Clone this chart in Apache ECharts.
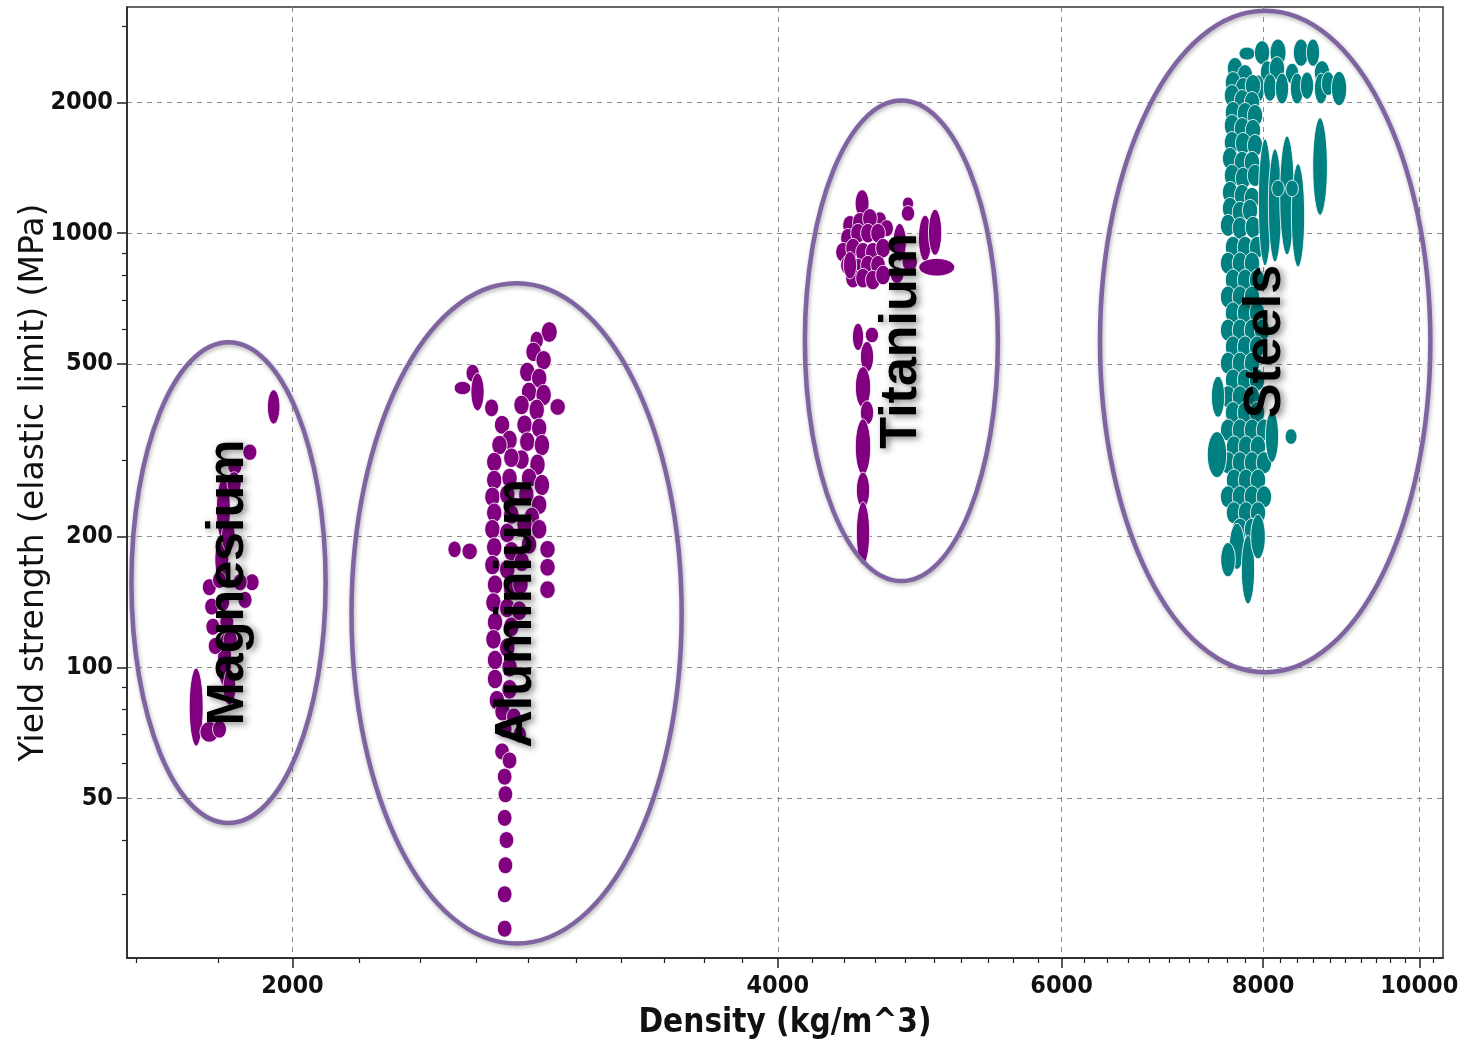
<!DOCTYPE html>
<html>
<head>
<meta charset="utf-8">
<title>Yield strength vs density</title>
<script src="https://cdn.jsdelivr.net/npm/echarts@6/dist/echarts.min.js"></script>
<style>
  html, body { margin: 0; padding: 0; background: #fff; }
  #chart { width: 1464px; height: 1040px; }
</style>
</head>
<body>
<div id="chart"></div>
<script>
// axis ticks (log scales)
var densityLabels = [2000, 4000, 6000, 8000, 10000];
var densityMinor = [1600, 1800, 2200, 2400, 2600, 2800, 3000, 3200, 3400, 3600, 3800,
    4200, 4400, 4600, 4800, 5000, 5200, 5400, 5600, 5800,
    6200, 6400, 6600, 6800, 7000, 7200, 7400, 7600, 7800,
    8200, 8400, 8600, 8800, 9000, 9200, 9400, 9600, 9800, 10200];
var strengthLabels = [50, 100, 200, 500, 1000, 2000];
var strengthMinor = [30, 40, 60, 70, 80, 90, 300, 400, 600, 700, 800, 900, 3000];

// material families: envelope ranges [low, high]
var familyNames = ['Magnesium', 'Aluminium', 'Titanium', 'Steels'];
var familyDensity = [[1589, 2097], [2176, 3487], [4158, 5478], [6338, 10160]];
var familyStrength = [[43.8, 561], [23.1, 767], [158, 2021], [97.4, 3254]];

// materials: [density kg/m3, yield strength MPa, +-density %, +-strength %]
var magnesium = [
    [1947, 398, 0.9, 9.5], [1882, 313, 1.0, 4.4], [1842, 290, 1.0, 4.4],
    [1812, 231, 1.0, 18], [1808, 177, 1.0, 12], [1815, 104, 1.0, 15],
    [1776, 153, 1.0, 4.6], [1802, 159, 1.0, 4.6], [1782, 138, 1.0, 4.6],
    [1810, 141, 1.0, 4.6], [1785, 124, 1.0, 4.6], [1821, 127, 1.0, 4.6],
    [1888, 157, 1.0, 4.6], [1856, 157, 1.0, 4.6], [1791, 112, 1.0, 4.6],
    [1830, 116, 1.0, 4.6], [1869, 143, 1.0, 4.6], [1840, 265, 1.0, 6.5],
    [1825, 200, 1.0, 8], [1828, 90, 0.9, 10],
    [1743, 81, 1.0, 23], [1776, 71, 1.35, 5.6], [1802, 72, 1.0, 4.8]
];
var aluminium = [
    [2886, 592, 1.15, 5.6], [2835, 567, 0.95, 4.8], [2822, 533, 1.1, 5.3],
    [2863, 510, 1.1, 5.2], [2797, 479, 1.1, 5.3], [2845, 464, 1.1, 5.3],
    [2804, 431, 1.1, 5.3], [2863, 424, 1.1, 5.8], [2774, 402, 1.1, 5.3],
    [2835, 392, 1.1, 5.8], [2786, 362, 1.1, 5.3], [2845, 356, 1.1, 5.3],
    [2797, 331, 1.1, 5.3], [2856, 325, 1.1, 5.8], [2774, 301, 1.1, 5.3],
    [2838, 293, 1.1, 5.8], [2804, 273, 1.1, 5.3], [2856, 263, 1.1, 5.8],
    [2793, 250, 1.1, 5.8], [2845, 237, 1.1, 5.3], [2815, 222, 1.1, 5.3],
    [2587, 476, 0.95, 4.8], [2550, 440, 1.2, 3.6], [2605, 431, 0.95, 10.5],
    [2658, 396, 1.0, 4.8], [2698, 362, 1.1, 5.1], [2727, 334, 1.1, 5.3],
    [2921, 398, 1.1, 4.5],
    [2688, 325, 1.1, 5.3], [2668, 297, 1.1, 5.3], [2734, 304, 1.1, 5.3],
    [2668, 270, 1.1, 5.3], [2727, 273, 1.1, 5.3], [2661, 247, 1.1, 5.3],
    [2718, 250, 1.1, 5.3], [2668, 227, 1.1, 5.3], [2734, 225, 1.1, 5.3],
    [2661, 208, 1.1, 5.3], [2718, 204, 1.1, 5.3], [2668, 189, 1.1, 5.3],
    [2734, 185, 1.1, 5.3], [2661, 172, 1.1, 5.3], [2718, 168, 1.1, 5.3],
    [2671, 155, 1.1, 5.3], [2734, 151, 1.1, 5.3], [2665, 141, 1.1, 5.3],
    [2718, 137, 1.1, 5.3], [2671, 127, 1.1, 5.3], [2734, 124, 1.1, 5.3],
    [2665, 116, 1.1, 5.3], [2718, 111, 1.1, 5.3], [2671, 104, 1.1, 5.3],
    [2727, 100, 1.1, 5.3], [2671, 94, 1.1, 5.3], [2727, 89, 1.1, 5.3],
    [2678, 84, 1.1, 5.3], [2700, 79, 1.1, 5.0],
    [2786, 213, 1.1, 5.3], [2804, 192, 1.1, 5.3], [2845, 208, 1.1, 5.3],
    [2775, 175, 1.1, 5.3], [2770, 155, 1.1, 5.3], [2765, 135, 1.1, 5.3],
    [2521, 187, 0.95, 4.5], [2576, 185, 1.1, 4.5],
    [2879, 187, 1.1, 4.8], [2879, 170, 1.1, 4.8], [2879, 151, 1.1, 4.8],
    [2744, 77, 1.05, 4.6], [2708, 72, 1.05, 4.6], [2767, 70, 0.95, 4.6],
    [2698, 64, 1.05, 4.6], [2727, 61, 1.05, 4.6], [2708, 56, 1.05, 4.6],
    [2711, 51, 1.05, 4.6], [2708, 45, 1.05, 4.6], [2715, 40, 1.05, 4.6],
    [2711, 35, 1.05, 4.6], [2708, 30, 1.05, 4.6], [2708, 25, 1.05, 4.6]
];
var titanium = [
    [4512, 1171, 1.0, 7.5], [4628, 1071, 0.95, 4.6], [4674, 1027, 0.95, 4.6],
    [4435, 1043, 1.05, 5.3], [4498, 1060, 1.05, 5.3], [4563, 1082, 1.05, 5.3],
    [4422, 974, 1.05, 5.3], [4486, 1000, 1.05, 5.3], [4550, 1000, 1.05, 5.3],
    [4616, 1000, 1.05, 5.3], [4391, 904, 1.05, 5.3], [4454, 924, 1.05, 5.3],
    [4518, 904, 1.05, 5.3], [4582, 904, 1.05, 5.3], [4649, 924, 1.05, 5.3],
    [4422, 844, 1.05, 5.3], [4486, 831, 1.05, 5.3], [4550, 844, 1.05, 5.3],
    [4616, 844, 1.05, 5.3], [4454, 788, 1.05, 5.3], [4518, 788, 1.05, 5.3],
    [4582, 780, 1.05, 5.3], [4649, 801, 1.05, 5.3], [4435, 844, 0.95, 7.5],
    [4818, 1171, 0.8, 3.5], [4818, 1111, 0.95, 4.2],
    [4761, 953, 0.95, 10.5], [4937, 974, 0.95, 13], [5008, 1005, 0.95, 13],
    [5020, 835, 2.6, 4.8], [4830, 858, 1.1, 5.0], [4743, 801, 0.95, 4.5],
    [4486, 577, 0.8, 7.5], [4576, 583, 0.95, 4.2], [4544, 519, 0.95, 8.5],
    [4518, 442, 1.1, 11.5], [4544, 386, 0.95, 6.5], [4518, 322, 1.1, 16],
    [4518, 256, 0.95, 10], [4518, 204, 0.95, 18]
];
var steels = [
    [7819, 2593, 1.15, 3.5], [7989, 2606, 1.1, 6.5], [8173, 2606, 1.15, 7.5],
    [8446, 2606, 1.1, 7.5], [8592, 2606, 0.95, 7.5], [8046, 2344, 0.95, 6.5],
    [8161, 2395, 1.1, 6.5], [8339, 2332, 0.95, 5.6], [8703, 2344, 1.1, 6.5],
    [7943, 2154, 0.95, 7.5], [8080, 2165, 0.95, 7.5], [8220, 2154, 0.95, 8.5],
    [8398, 2154, 0.95, 8.5], [8519, 2188, 0.95, 7.5], [8691, 2154, 0.95, 8.5],
    [8779, 2212, 0.95, 6.5], [8918, 2154, 1.1, 9.5],
    [7686, 2395, 1.1, 6.0], [7797, 2307, 1.1, 6.0], [7664, 2223, 1.1, 6.0],
    [7775, 2154, 1.1, 6.0], [7886, 2188, 1.1, 6.0], [7653, 2075, 1.1, 6.0],
    [7764, 2021, 1.1, 6.0], [7875, 2000, 1.1, 6.0], [7664, 1897, 1.1, 6.0],
    [7797, 1887, 1.1, 6.0], [7909, 1867, 1.1, 6.0], [7653, 1771, 1.1, 6.0],
    [7764, 1742, 1.1, 6.0], [7886, 1725, 1.1, 6.0], [7653, 1618, 1.1, 6.0],
    [7775, 1610, 1.1, 6.0], [7909, 1593, 1.1, 6.0], [7632, 1487, 1.1, 6.0],
    [7764, 1456, 1.1, 6.0], [7875, 1456, 1.1, 6.0], [7653, 1359, 1.1, 6.0],
    [7775, 1338, 1.1, 6.0], [7909, 1359, 1.1, 6.0], [7632, 1242, 1.1, 6.0],
    [7764, 1222, 1.1, 6.0], [7875, 1203, 1.1, 6.0], [7632, 1141, 1.1, 6.0],
    [7741, 1117, 1.1, 6.0], [7853, 1129, 1.1, 6.0], [7610, 1043, 1.1, 6.0],
    [7741, 1027, 1.1, 6.0], [7886, 1032, 1.1, 6.0],
    [7664, 928, 1.1, 6.0], [7797, 928, 1.1, 6.0], [7932, 928, 1.1, 6.0],
    [7610, 853, 1.1, 6.0], [7741, 853, 1.1, 6.0], [7875, 853, 1.1, 6.0],
    [7664, 780, 1.1, 6.0], [7797, 780, 1.1, 6.0], [7932, 780, 1.1, 6.0],
    [7610, 713, 1.1, 6.0], [7741, 713, 1.1, 6.0], [7875, 713, 1.1, 6.0],
    [7664, 655, 1.1, 6.0], [7797, 655, 1.1, 6.0], [7932, 655, 1.1, 6.0],
    [7610, 598, 1.1, 6.0], [7741, 598, 1.1, 6.0], [7875, 598, 1.1, 6.0],
    [7989, 598, 1.1, 6.0],
    [7664, 547, 1.1, 6.0], [7797, 547, 1.1, 6.0], [7932, 547, 1.1, 6.0],
    [7610, 502, 1.1, 6.0], [7741, 502, 1.1, 6.0], [7875, 502, 1.1, 6.0],
    [7664, 459, 1.1, 6.0], [7797, 459, 1.1, 6.0], [7932, 459, 1.1, 6.0],
    [7610, 420, 1.1, 6.0], [7741, 420, 1.1, 6.0], [7875, 420, 1.1, 6.0],
    [7664, 386, 1.1, 6.0], [7797, 386, 1.1, 6.0], [7932, 386, 1.1, 6.0],
    [7610, 352, 1.1, 6.0], [7741, 352, 1.1, 6.0], [7875, 352, 1.1, 6.0],
    [8011, 352, 1.1, 6.0],
    [7675, 322, 1.1, 6.0], [7808, 322, 1.1, 6.0], [7943, 322, 1.1, 6.0],
    [7610, 296, 1.1, 6.0], [7741, 296, 1.1, 6.0], [7875, 296, 1.1, 6.0],
    [8011, 296, 1.1, 6.0],
    [7675, 270, 1.1, 6.0], [7808, 270, 1.1, 6.0], [7943, 270, 1.1, 6.0],
    [7610, 247, 1.1, 6.0], [7741, 247, 1.1, 6.0], [7875, 247, 1.1, 6.0],
    [8011, 247, 1.1, 6.0],
    [7675, 227, 1.1, 6.0], [7808, 227, 1.1, 6.0], [7943, 227, 1.1, 6.0],
    [7741, 208, 1.1, 6.0], [7875, 208, 1.1, 6.0],
    [7491, 309, 1.4, 13], [7502, 420, 0.95, 11.5], [8327, 340, 0.85, 4.2],
    [8103, 340, 0.95, 14.5], [7708, 190, 1.1, 13], [7830, 168, 0.95, 20],
    [7943, 200, 1.05, 12.5], [7610, 177, 1.05, 9.5],
    [8023, 1178, 0.95, 40], [8138, 1159, 0.95, 35], [8279, 1222, 1.05, 37],
    [8410, 1099, 0.95, 31.5], [8173, 1268, 0.9, 4.5], [8339, 1268, 0.9, 4.5],
    [8679, 1425, 1.05, 29.5]
];

var tickFont = "'DejaVu Sans Condensed', 'DejaVu Sans', sans-serif";

// one material bubble: an ellipse spanning its property ranges
function bubbleItem(color) {
    return function(params, api) {
        var d = api.value(0), s = api.value(1);
        var fd = 1 + api.value(2) / 100, fs = 1 + api.value(3) / 100;
        var c = api.coord([d, s]);
        var lo = api.coord([d / fd, s / fs]);
        var hi = api.coord([d * fd, s * fs]);
        return {
            type: 'ellipse',
            shape: {
                cx: c[0], cy: c[1],
                rx: Math.abs(hi[0] - lo[0]) / 2,
                ry: Math.abs(lo[1] - hi[1]) / 2
            },
            style: { fill: color, stroke: 'rgba(255,255,255,0.85)', lineWidth: 1 }
        };
    };
}

// family envelope with its name written upwards
function envelopeItem(params, api) {
    var p0 = api.coord([api.value(0), api.value(3)]);
    var p1 = api.coord([api.value(1), api.value(2)]);
    var cx = (p0[0] + p1[0]) / 2, cy = (p0[1] + p1[1]) / 2;
    return {
        type: 'group',
        children: [{
            type: 'ellipse',
            shape: { cx: cx, cy: cy, rx: Math.abs(p1[0] - p0[0]) / 2, ry: Math.abs(p1[1] - p0[1]) / 2 },
            style: {
                fill: 'none', stroke: '#8064a2', lineWidth: 4.5,
                shadowBlur: 4, shadowColor: 'rgba(0,0,0,0.3)', shadowOffsetX: 1, shadowOffsetY: 2
            }
        }, {
            type: 'text',
            x: cx, y: cy,
            rotation: Math.PI / 2,
            style: {
                text: familyNames[params.dataIndex],
                font: "bold 52px 'Liberation Sans', Arial, sans-serif",
                fill: '#000',
                align: 'center',
                verticalAlign: 'middle',
                textShadowColor: 'rgba(0,0,0,0.5)',
                textShadowBlur: 7,
                textShadowOffsetX: 3,
                textShadowOffsetY: 2
            }
        }]
    };
}

var envelopes = familyNames.map(function(n, i) {
    return [familyDensity[i][0], familyDensity[i][1], familyStrength[i][0], familyStrength[i][1]];
});

var xMin = 1579, xMax = 10345, yMin = 21.4, yMax = 3320;
var axisColor = '#222';

var myChart = echarts.init(document.getElementById('chart'));
var option = {
    backgroundColor: '#fff',
    animation: false,
    grid: {
        left: 127, right: 21, top: 7, bottom: 82,
        outerBoundsMode: 'none',
        show: true, borderColor: '#333', borderWidth: 1.5
    },
    xAxis: [{
        type: 'log', min: xMin, max: xMax,
        name: 'Density (kg/m^3)',
        nameLocation: 'middle', nameGap: 49, nameMoveOverlap: false,
        nameTextStyle: { fontFamily: tickFont, fontWeight: 'bold', fontSize: 33, color: '#111' },
        axisLine: { show: true, onZero: false, lineStyle: { color: axisColor, width: 1.5 } },
        axisTick: { show: true, customValues: densityLabels, length: 10, lineStyle: { color: axisColor, width: 1.5 } },
        axisLabel: {
            customValues: densityLabels, margin: 16,
            fontFamily: tickFont, fontWeight: 'bold', fontSize: 25, color: '#111',
            formatter: function(v) { return String(Math.round(v)); }
        },
        splitLine: { show: true, lineStyle: { type: [5, 5], color: '#8c8c8c', width: 1 } }
    }, {
        type: 'log', min: xMin, max: xMax, position: 'bottom',
        axisLine: { show: false },
        axisTick: { show: true, customValues: densityMinor, length: 5, lineStyle: { color: axisColor, width: 1.2 } },
        axisLabel: { show: false },
        splitLine: { show: false }
    }],
    yAxis: [{
        type: 'log', min: yMin, max: yMax,
        name: 'Yield strength (elastic limit) (MPa)',
        nameLocation: 'middle', nameGap: 76, nameRotate: 90, nameMoveOverlap: false,
        nameTextStyle: { fontFamily: "'DejaVu Sans', sans-serif", fontSize: 33, color: '#111' },
        axisLine: { show: true, onZero: false, lineStyle: { color: axisColor, width: 1.5 } },
        axisTick: { show: true, customValues: strengthLabels, length: 10, lineStyle: { color: axisColor, width: 1.5 } },
        axisLabel: {
            customValues: strengthLabels, margin: 14,
            fontFamily: tickFont, fontWeight: 'bold', fontSize: 25, color: '#111',
            formatter: function(v) { return String(Math.round(v)); }
        },
        splitLine: { show: true, lineStyle: { type: [5, 5], color: '#8c8c8c', width: 1 } }
    }, {
        type: 'log', min: yMin, max: yMax, position: 'left',
        axisLine: { show: false },
        axisTick: { show: true, customValues: strengthMinor, length: 5, lineStyle: { color: axisColor, width: 1.2 } },
        axisLabel: { show: false },
        splitLine: { show: false }
    }],
    series: [
        { name: 'Magnesium', type: 'custom', renderItem: bubbleItem('#800080'), encode: { x: 0, y: 1 }, data: magnesium, z: 2 },
        { name: 'Aluminium', type: 'custom', renderItem: bubbleItem('#800080'), encode: { x: 0, y: 1 }, data: aluminium, z: 2 },
        { name: 'Titanium', type: 'custom', renderItem: bubbleItem('#800080'), encode: { x: 0, y: 1 }, data: titanium, z: 2 },
        { name: 'Steels', type: 'custom', renderItem: bubbleItem('#008080'), encode: { x: 0, y: 1 }, data: steels, z: 2 },
        { name: 'Families', type: 'custom', renderItem: envelopeItem, encode: { x: [0, 1], y: [2, 3] }, data: envelopes, z: 3 }
    ]
};
myChart.setOption(option);
</script>
</body>
</html>
